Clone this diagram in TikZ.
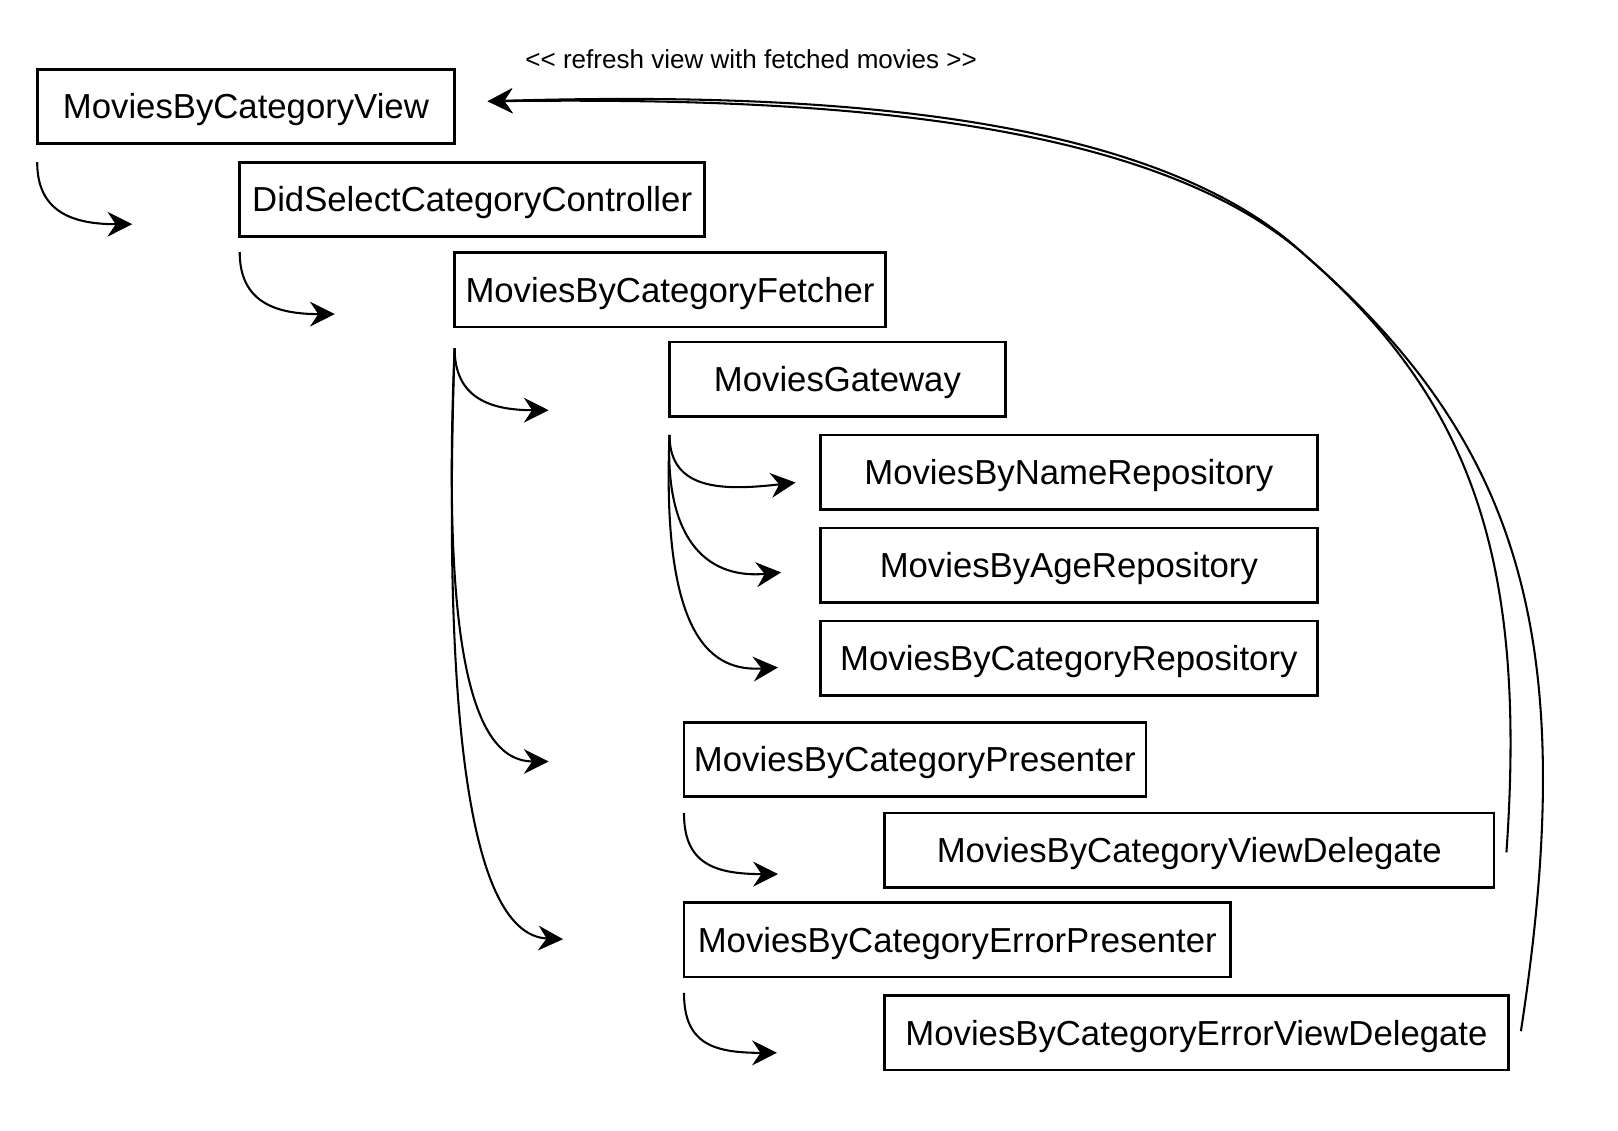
\documentclass[tikz,border=0pt]{standalone}
\usepackage{fontspec}
\newfontfamily\hv{Liberation Sans}
\usetikzlibrary{arrows.meta}
\begin{document}
\begin{tikzpicture}[x=0.5pt,y=-0.5pt,
  box/.style={draw=black, line width=1.3pt, inner sep=0pt, minimum height=36pt,
    text height=12pt, text depth=0pt,
    font=\hv\fontsize{16.8}{20}\selectfont, text=black},
  flow/.style={line width=1pt, -{Stealth[length=12pt,width=12pt,inset=4pt]}},
  lbl/.style={font=\hv\fontsize{12.6}{15}\selectfont, inner sep=0pt}]
\useasboundingbox (0,0) rectangle (1566,1094);

% boxes
\node[box, minimum width=202pt]   (view)  at (238,103)    {MoviesByCategoryView};
\node[box, minimum width=225pt]   (ctrl)  at (457,193)    {DidSelectCategoryController};
\node[box, minimum width=208.5pt] (fetch) at (648.5,280.5){MoviesByCategoryFetcher};
\node[box, minimum width=162.5pt] (gate)  at (810.5,367)  {MoviesGateway};
\node[box, minimum width=240.5pt] (name)  at (1034.5,457) {MoviesByNameRepository};
\node[box, minimum width=240.5pt] (age)   at (1034.5,547) {MoviesByAgeRepository};
\node[box, minimum width=240.5pt] (cat)   at (1034.5,637) {MoviesByCategoryRepository};
\node[box, minimum width=223.5pt] (pres)  at (885.5,735)  {MoviesByCategoryPresenter};
\node[box, minimum width=295pt]   (vdel)  at (1151,823)   {MoviesByCategoryViewDelegate};
\node[box, minimum width=264.5pt] (epres) at (926.5,909.5){MoviesByCategoryErrorPresenter};
\node[box, minimum width=302pt]   (evdel) at (1158,999.5) {MoviesByCategoryErrorViewDelegate};

\node[lbl] (refresh) at (727,57) {<{}< refresh view with fetched movies >{}>};

% free ends of connectors
\coordinate (s1) at (36,157);   \coordinate (e1) at (128,217);
\coordinate (s2) at (232,244);  \coordinate (e2) at (324,304);
\coordinate (s3) at (440,337);  \coordinate (e3) at (531,397);
\coordinate (e4) at (531,737);  \coordinate (e5) at (545,909);
\coordinate (s6) at (648,421);
\coordinate (e6) at (770,467);  \coordinate (e7) at (756,554);  \coordinate (e8) at (753,646);
\coordinate (s9) at (662,787);  \coordinate (e9) at (753,846);
\coordinate (s10) at (662,961); \coordinate (e10) at (752,1019);
\coordinate (r1) at (1458,825); \coordinate (r2) at (1472,998);
\coordinate (rj) at (1262,246); \coordinate (rt) at (472,98);

% short call arrows
\draw[flow] (s1) .. controls (36,205) and (70,217) .. (e1);
\draw[flow] (s2) .. controls (232,292) and (266,304) .. (e2);
\draw[flow] (s3) .. controls (440,385) and (474,397) .. (e3);
\draw[flow] (s3) .. controls (428,620) and (455,737) .. (e4);
\draw[flow] (s3) .. controls (428,700) and (455,905) .. (e5);

\draw[flow] (s6) .. controls (648,475) and (700,475) .. (e6);
\draw[flow] (s6) .. controls (643,530) and (690,560) .. (e7);
\draw[flow] (s6) .. controls (640,620) and (690,650) .. (e8);

\draw[flow] (s9) .. controls (662,835) and (690,846) .. (e9);
\draw[flow] (s10) .. controls (662,1010) and (690,1019) .. (e10);

% return arrows
\draw[flow] (r1) .. controls (1478,540) and (1424,387) .. (rj)
               .. controls (1100,105) and (750,95) .. (rt);
\draw[flow] (r2) .. controls (1530,620) and (1473,429) .. (rj)
               .. controls (1105,100) and (750,90) .. (rt);
\end{tikzpicture}
\end{document}
